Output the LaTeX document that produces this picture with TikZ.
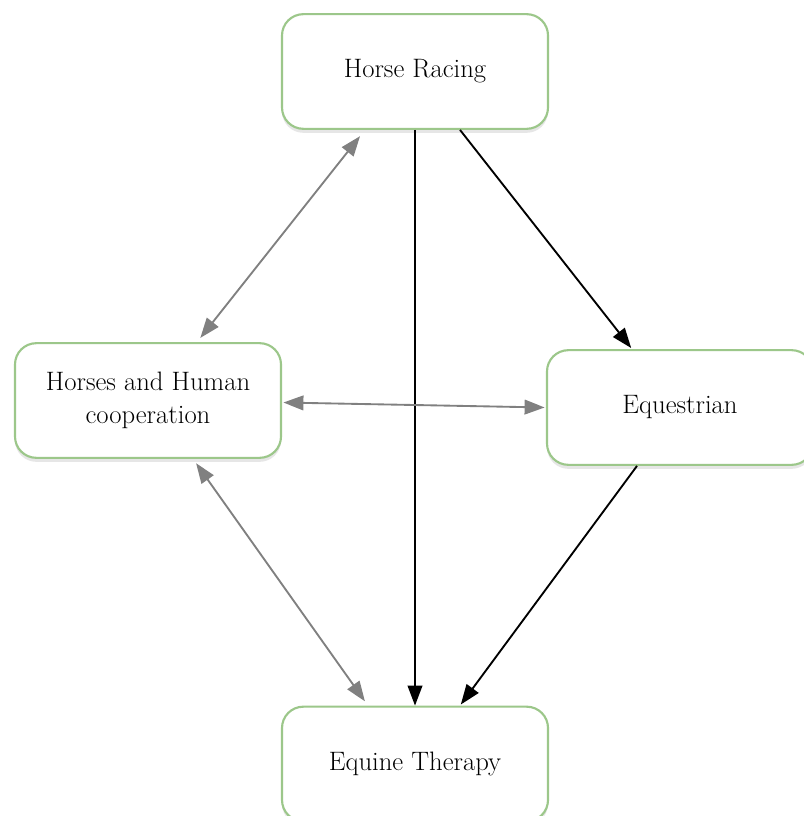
\documentclass[tikz,border=0pt]{standalone}
\usepackage{fontspec}
\setmainfont{Latin Modern Roman}
\usetikzlibrary{arrows.meta,shadows,calc}
\definecolor{boxgreen}{HTML}{9CC78A}
\definecolor{arrgray}{HTML}{808080}
\tikzset{
  topic/.style={draw=boxgreen, line width=1.6pt, rounded corners=16pt, fill=white,
    minimum width=199.5pt, minimum height=86pt, align=center, text=black,
    font=\fontsize{20}{25}\selectfont,
    drop shadow={opacity=0.2, shadow xshift=0pt, shadow yshift=-3pt}},
  twoway/.style={draw=arrgray, line width=1.4pt, {Triangle[length=15pt,width=11pt]}-{Triangle[length=15pt,width=11pt]}},
  oneway/.style={draw=black, line width=1.4pt, -{Triangle[length=15pt,width=11pt]}}
}
\begin{document}
\begin{tikzpicture}[x=0.75pt,y=-0.75pt]
\useasboundingbox (0,0) rectangle (803,816);
\node[topic] (hr) at (415,71.5) {Horse Racing};
\node[topic] (hh) at (148,400.5) {Horses and Human\\cooperation};
\node[topic] (eq) at (680,407.5) {Equestrian};
\node[topic] (et) at (415,764) {Equine Therapy};
\draw[twoway, shorten <=6pt, shorten >=4pt] ([xshift=-37.5pt]hr.south) -- ([xshift=36.75pt]hh.north);
\draw[oneway] (hr.south) -- (et.north);
\draw[oneway, shorten >=1pt] ([xshift=33.75pt]hr.south) -- ([xshift=-36pt]eq.north);
\draw[twoway, shorten <=1pt, shorten >=1pt] ([yshift=-1.5pt]hh.east) -- ([yshift=0pt]eq.west);
\draw[twoway, shorten <=4pt, shorten >=4pt] ([xshift=33.75pt]hh.south) -- ([xshift=-35.25pt]et.north);
\draw[oneway, shorten >=1pt] ([xshift=-32.25pt]eq.south) -- ([xshift=33.75pt]et.north);
\end{tikzpicture}
\end{document}
